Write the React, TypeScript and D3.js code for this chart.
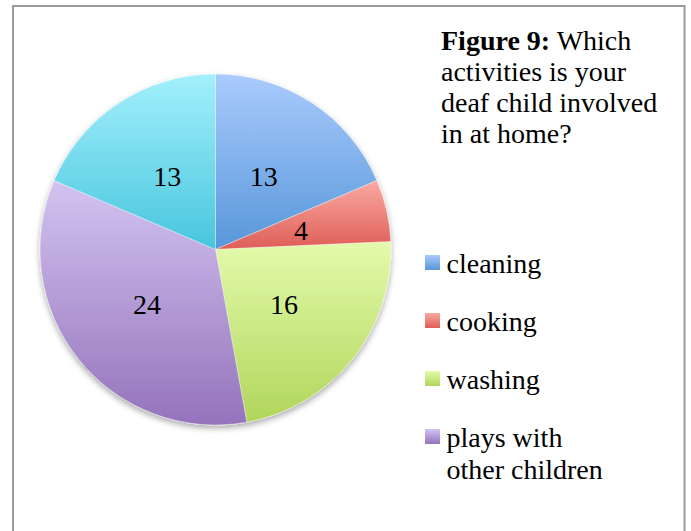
import React from "react";
import * as d3 from "d3";

const categories = ["cleaning", "cooking", "washing", "plays with other children", ""];
const values = [13, 4, 16, 24, 13];
const legendLabels = [["cleaning"], ["cooking"], ["washing"], ["plays with", "other children"]];
const titleLines = ["activities is your", "deaf child involved", "in at home?"];
const gradTop = ["#aacbfd", "#f9aaa3", "#e3fbab", "#d3c3f1", "#a3f0fc"];
const gradBottom = ["#5797da", "#df5d57", "#b1d55b", "#9473bb", "#48c5de"];

const W = 691;
const H = 531;
const cx = 215.5;
const cy = 249.5;
const R = 175.5;
const FONT = "'Liberation Serif', 'Times New Roman', serif";

export default function App() {
  const pie = d3.pie<number>().sort(null).value((d) => d)(values);
  const arc = d3.arc<d3.PieArcDatum<number>>().innerRadius(0).outerRadius(R);
  const legendY = d3.scaleLinear().domain([0, 1]).range([273, 331]);

  return (
    <svg width={W} height={H} style={{ position: "absolute", left: 0, top: 0 }}>
      <defs>
        {values.map((_, i) => (
          <linearGradient key={i} id={`g${i}`} x1="0" y1="0" x2="0" y2="1">
            <stop offset="0" stopColor={gradTop[i]} />
            <stop offset="1" stopColor={gradBottom[i]} />
          </linearGradient>
        ))}
        <filter id="shadow" x="-20%" y="-20%" width="140%" height="140%">
          <feGaussianBlur in="SourceAlpha" stdDeviation="3" />
          <feOffset dx="0" dy="3" result="b" />
          <feComponentTransfer>
            <feFuncA type="linear" slope="0.35" />
          </feComponentTransfer>
          <feMerge>
            <feMergeNode />
            <feMergeNode in="SourceGraphic" />
          </feMerge>
        </filter>
      </defs>
      <rect x={0} y={0} width={W} height={H} fill="#fff" />
      <rect x={13} y={6} width={671.5} height={H + 20} fill="none" stroke="#9a9a9a" strokeWidth={2} />
      <g transform={`translate(${cx},${cy})`}>
        <g filter="url(#shadow)">
          {pie.map((p, i) => (
            <path key={i} d={arc(p) || ""} fill={`url(#g${i})`} stroke="#ffffff" strokeOpacity={0.5} strokeWidth={0.75} />
          ))}
        </g>
        {pie.map((p, i) => {
          const [x, y] = arc.centroid(p);
          return (
            <text key={i} x={x} y={y} dy="0.35em" textAnchor="middle" fontFamily={FONT} fontSize={28} fill="#000">
              {values[i]}
            </text>
          );
        })}
      </g>
      <g fontFamily={FONT} fontSize={28} fill="#000">
        <text x={441} y={50}>
          <tspan fontWeight="bold">Figure 9:</tspan> Which
        </text>
        {titleLines.map((t, i) => (
          <text key={i} x={441} y={50 + 31 * (i + 1)}>
            {t}
          </text>
        ))}
      </g>
      <g fontFamily={FONT} fontSize={28} fill="#000">
        {legendLabels.map((lines, i) => {
          const by = legendY(i);
          return (
            <g key={i}>
              <rect x={425} y={by - 18} width={15} height={15} fill={`url(#g${i})`} />
              {lines.map((l, j) => (
                <text key={j} x={446.5} y={by + j * 31.5}>
                  {l}
                </text>
              ))}
            </g>
          );
        })}
      </g>
    </svg>
  );
}
